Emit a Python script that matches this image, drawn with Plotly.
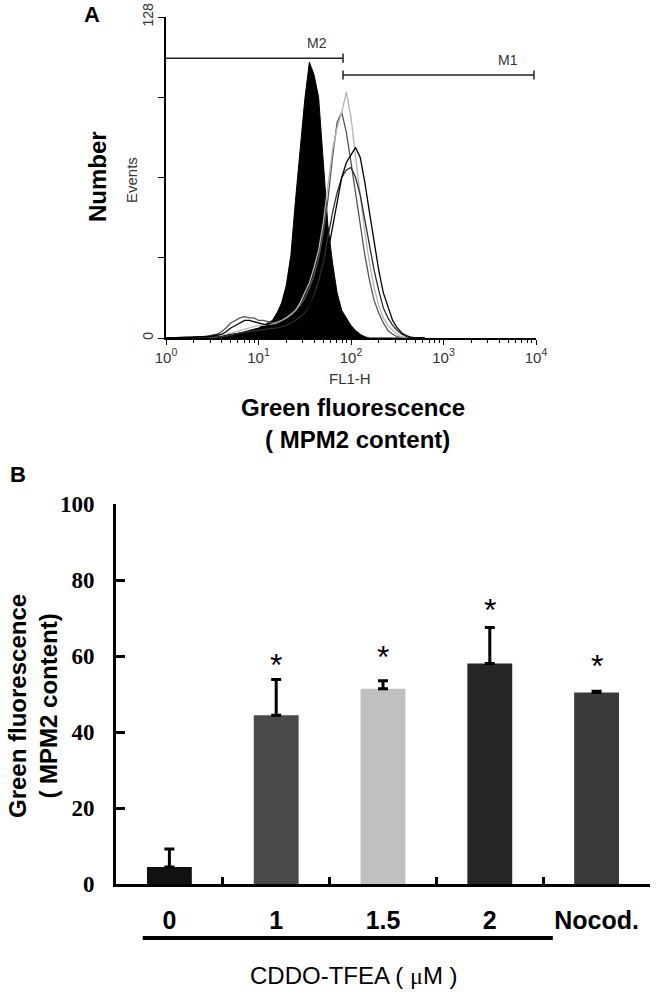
import math
import plotly.graph_objects as go

# ---------------- Panel A: flow cytometry histograms ----------------
# channel positions (log10 of FL1-H)
log_pos = [0.00, 0.05, 0.10, 0.15, 0.20, 0.25, 0.30, 0.35, 0.40, 0.45,
           0.50, 0.55, 0.60, 0.65, 0.70, 0.75, 0.80, 0.85, 0.90, 0.95,
           1.00, 1.05, 1.10, 1.15, 1.20, 1.25, 1.30, 1.35, 1.40, 1.45,
           1.50, 1.55, 1.60, 1.65, 1.70, 1.75, 1.80, 1.85, 1.90, 1.95,
           2.00, 2.05, 2.10, 2.15, 2.20, 2.25, 2.30, 2.35, 2.40, 2.45,
           2.50, 2.55, 2.60, 2.65, 2.70, 2.75, 2.80]

control_counts = [0, 0, 0, 0, 0.3, 0.3, 0.5, 0.3, 0.5, 0.5,
                  0.8, 0.8, 1, 1.2, 1.5, 1.5, 2, 2.5, 3, 3.5,
                  4, 5, 6, 7, 10, 14, 21, 33, 55, 75,
                  95, 110, 105, 96, 72, 45, 30, 18, 11, 8,
                  5, 3, 1.5, 0.5, 0, 0, 0, 0, 0, 0,
                  0, 0, 0, 0, 0, 0, 0]

curve_a = [0, 0, 0, 0, 0.3, 0.3, 0.3, 0.5, 0.5, 0.8,
           1, 1.5, 2.5, 4, 6, 7, 8, 8.5, 8, 8,
           7, 7, 6.5, 6, 6.5, 7, 8, 9, 11, 13,
           16, 20, 25, 32, 42, 55, 72, 86, 90, 82,
           70, 58, 45, 33, 23, 15, 10, 6, 3, 1.5,
           0.5, 0, 0, 0, 0, 0, 0]

curve_b = [0, 0, 0, 0, 0, 0, 0.3, 0.3, 0.5, 0.5,
           0.5, 0.5, 1, 1.5, 2, 2.5, 3, 3.5, 4, 4.5,
           5, 5, 5, 5.5, 6, 7, 8, 9.5, 11, 14,
           18, 22, 28, 35, 46, 60, 75, 84, 90, 98,
           88, 72, 56, 42, 30, 20, 13, 8, 5, 3,
           1.5, 0.5, 0, 0, 0, 0, 0]

curve_c = [0, 0, 0, 0, 0, 0.3, 0.3, 0.5, 0.5, 0.5,
           0.8, 1, 1.5, 2.5, 4, 5, 6, 7, 7, 6.5,
           6, 5.5, 5, 5, 5, 5.5, 6, 7, 8, 9.5,
           11, 13, 16, 20, 26, 34, 44, 55, 64, 70,
           73, 76, 72, 62, 50, 38, 27, 18, 12, 7,
           4, 2, 1, 0.3, 0, 0, 0]

curve_d = [0, 0, 0, 0, 0, 0, 0.3, 0.3, 0.3, 0.5,
           0.5, 0.5, 0.5, 0.8, 1, 1.5, 2, 2.3, 2.5, 2.8,
           3, 3.2, 3.5, 3.8, 4, 4.5, 5, 6, 7, 8.5,
           10, 13, 17, 23, 30, 40, 50, 58, 64, 67,
           68, 64, 57, 47, 37, 27, 19, 12, 8, 5,
           3, 1.5, 0.5, 0, 0, 0, 0]

outline_curves = [curve_a, curve_b, curve_d, curve_c]
outline_colors = ["#555555", "#b4b4b4", "#2e2e2e", "#000000"]

# marker gates
gate_names = ["M2", "M1"]
gate_lo = [1, 82]
gate_hi = [82, 9500]
gate_y = [111.6, 104.9]
gate_label_x = [43, 4980]
gate_label_y = [117.6, 110.8]

# ---------------- Panel B: bar chart ----------------
categories = ["0", "1", "1.5", "2", "Nocod."]
values = [4.5, 44.4, 51.4, 58.0, 50.4]
errors = [4.7, 9.4, 2.1, 9.5, 0.3]
bar_colors = ["#111111", "#4a4a4a", "#c0c0c0", "#262626", "#3a3a3a"]
star_index = [1, 2, 3, 4]
star_y = [57.7, 59.8, 72.2, 57.5]

W, H = 660, 1000
SANS = "Liberation Sans, Arial, sans-serif"
SERIF = "Liberation Serif, Times New Roman, serif"

fig = go.Figure()

fl = [10 ** v for v in log_pos]

fig.add_trace(go.Scatter(x=fl, y=control_counts, mode="lines", fill="tozeroy",
                         fillcolor="black", line=dict(color="black", width=1),
                         xaxis="x", yaxis="y", showlegend=False, hoverinfo="skip"))
for cv, col in zip(outline_curves, outline_colors):
    fig.add_trace(go.Scatter(x=fl, y=cv, mode="lines",
                             line=dict(color=col, width=1.3),
                             xaxis="x", yaxis="y", showlegend=False, hoverinfo="skip"))

# gates as lines with end ticks
for name, lo, hi, gy in zip(gate_names, gate_lo, gate_hi, gate_y):
    xs = [lo, hi, None, hi, hi]
    ys = [gy, gy, None, gy - 1.8, gy + 1.8]
    if name == "M1":
        xs += [None, lo, lo]
        ys += [None, gy - 1.8, gy + 1.8]
    fig.add_trace(go.Scatter(x=xs, y=ys, mode="lines",
                             line=dict(color="#222222", width=1.5),
                             xaxis="x", yaxis="y", showlegend=False, hoverinfo="skip"))

fig.add_trace(go.Bar(x=categories, y=values, marker=dict(color=bar_colors, line=dict(width=0)),
                     width=0.42,
                     error_y=dict(type="data", array=errors, arrayminus=[0] * len(errors),
                                  symmetric=False, thickness=3, width=5, color="black"),
                     xaxis="x2", yaxis="y2", showlegend=False, hoverinfo="skip"))

fig.update_layout(
    width=W, height=H, margin=dict(l=0, r=0, t=0, b=0, pad=0), autosize=False,
    paper_bgcolor="white", plot_bgcolor="white",
    xaxis=dict(type="log", range=[0, 4], domain=[166 / W, 536 / W], anchor="y",
               showline=True, linecolor="black", linewidth=1.5, mirror=False,
               ticks="outside", ticklen=5, tickcolor="black", tickwidth=1.3,
               tickvals=[1, 10, 100, 1000, 10000],
               ticktext=["10<sup>0</sup>", "10<sup>1</sup>", "10<sup>2</sup>",
                         "10<sup>3</sup>", "10<sup>4</sup>"],
               tickfont=dict(family=SANS, size=15, color="#333333"),
               minor=dict(ticks="outside", ticklen=3, tickcolor="black", dtick="D1"),
               showgrid=False, zeroline=False, automargin=False),
    yaxis=dict(range=[0, 128], domain=[1 - 338 / H, 1 - 17 / H], anchor="x",
               showline=True, linecolor="black", linewidth=1.5,
               ticks="outside", ticklen=6, tickcolor="black", tickwidth=1.3,
               tickvals=[0, 32, 64, 96, 128], ticktext=["0", "", "", "", "128"],
               tickangle=-90, tickfont=dict(family=SANS, size=14, color="#333333"),
               showgrid=False, zeroline=False, automargin=False),
    xaxis2=dict(type="category", categoryorder="array", categoryarray=categories,
                range=[-0.5, 4.5], domain=[116 / W, 650 / W], anchor="y2",
                showline=True, linecolor="black", linewidth=3,
                ticks="inside", tickson="boundaries", ticklen=7, tickwidth=2.5,
                tickcolor="black", ticklabelstandoff=12,
                tickfont=dict(family=SANS, size=25, color="black", weight="bold"),
                showgrid=False, zeroline=False, automargin=False),
    yaxis2=dict(range=[0, 100], dtick=20, domain=[1 - 884 / H, 1 - 504 / H], anchor="x2",
                showline=True, linecolor="black", linewidth=3,
                ticks="inside", ticklen=9, tickwidth=2.5, tickcolor="black",
                ticklabelstandoff=14,
                tickfont=dict(family=SERIF, size=23, color="black", weight="bold"),
                showgrid=False, zeroline=False, automargin=False),
)

annotations = []


def txt(x, y, text, size, family=SANS, bold=False, color="black", angle=0, xanchor="center"):
    annotations.append(dict(x=x / W, y=1 - y / H, xref="paper", yref="paper", text=text,
                            showarrow=False, xanchor=xanchor, yanchor="middle", textangle=angle,
                            font=dict(family=family, size=size, color=color,
                                      weight="bold" if bold else "normal")))


txt(92, 14, "A", 22, bold=True)
txt(18, 474, "B", 22, bold=True)
txt(97, 177, "Number", 24, bold=True, angle=-90)
txt(132, 180, "Events", 15, color="#333333", angle=-90)
txt(350, 378, "FL1-H", 15, color="#333333")
txt(353, 408, "Green fluorescence", 24, bold=True)
txt(357, 439, "( MPM2 content)", 24, bold=True)
txt(33, 706, "Green fluorescence<br>( MPM2 content)", 24, bold=True, angle=-90)
txt(354, 975, "CDDO-TFEA ( <span style=\"font-family:'Liberation Serif'\">μ</span>M )", 24)

for name, lx, ly in zip(gate_names, gate_label_x, gate_label_y):
    annotations.append(dict(x=math.log10(lx), y=ly, xref="x", yref="y", text=name,
                            showarrow=False, xanchor="center", yanchor="middle",
                            font=dict(family=SANS, size=14, color="#333333")))

for ci, sy in zip(star_index, star_y):
    annotations.append(dict(x=ci, y=sy, xref="x2", yref="y2", text="*", showarrow=False,
                            xanchor="center", yanchor="middle",
                            font=dict(family=SANS, size=32, color="black")))

fig.update_layout(annotations=annotations)

# bracket line under the CDDO-TFEA concentrations
fig.add_shape(type="line", xref="x2", yref="paper", x0=-0.25, x1=3.59,
              y0=1 - 938 / H, y1=1 - 938 / H, line=dict(color="black", width=4))

fig.write_html("out.html", config={"displayModeBar": False},
               post_script="document.body.style.margin='0';document.body.style.padding='0';")
